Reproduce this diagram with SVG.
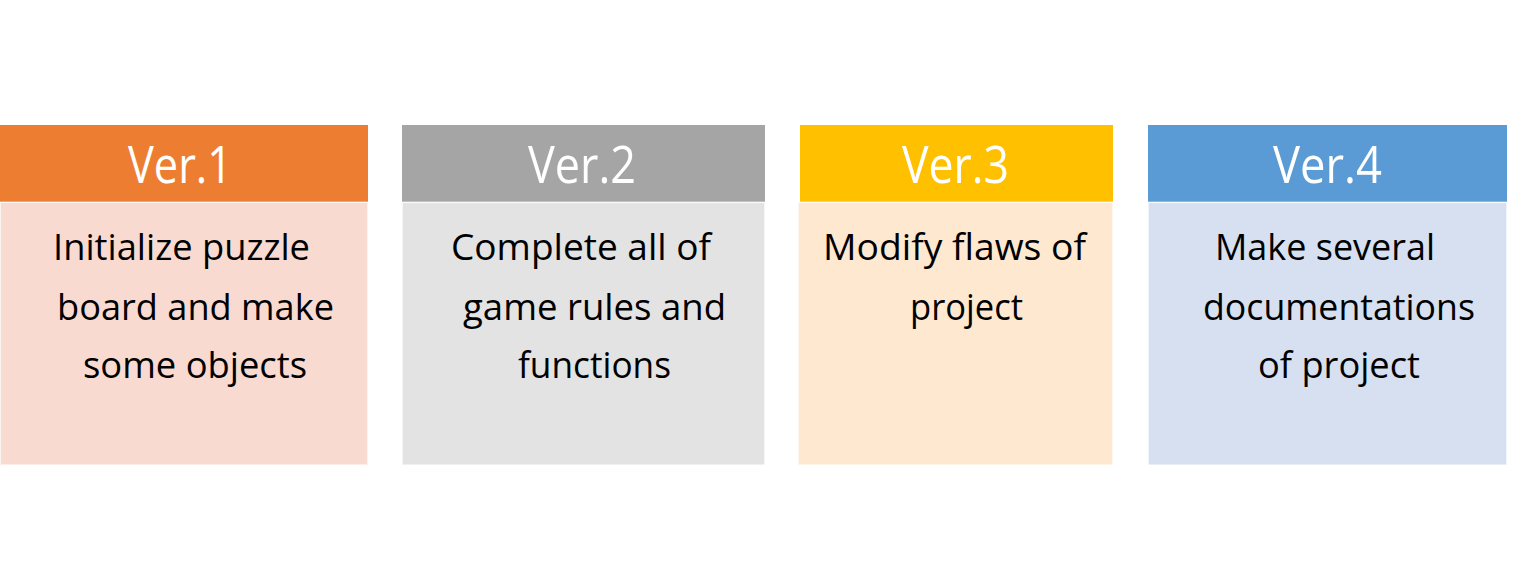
<svg xmlns="http://www.w3.org/2000/svg" width="1522" height="582" viewBox="0 0 1522 582">
<style>
.hd{font-family:"Open Sans","Noto Sans","Liberation Sans",sans-serif;font-size:52px;fill:#FFFFFF}
.bd{font-family:"Open Sans","Noto Sans","Liberation Sans",sans-serif;font-size:36px;fill:#000000}
.body{stroke:#FFFFFF;stroke-opacity:0.35;stroke-width:1}
</style>
<rect x="0" y="0" width="1522" height="582" fill="#FFFFFF"/>
<g id="ver1">
<rect x="0" y="125" width="368" height="76.7" fill="#ED7D31"/>
<rect class="body" x="0.5" y="202.7" width="367" height="262" fill="#F8DAD0"/>
<text class="hd" x="128" y="183" textLength="104" lengthAdjust="spacingAndGlyphs">Ver.1</text>
<text class="bd" x="53" y="260" textLength="257" lengthAdjust="spacingAndGlyphs">Initialize puzzle</text>
<text class="bd" x="57" y="320" textLength="277" lengthAdjust="spacingAndGlyphs">board and make</text>
<text class="bd" x="83" y="378" textLength="224" lengthAdjust="spacingAndGlyphs">some objects</text>
</g>
<g id="ver2">
<rect x="402" y="125" width="363" height="76.7" fill="#A5A5A5"/>
<rect class="body" x="402.5" y="202.7" width="362" height="262" fill="#E3E3E3"/>
<text class="hd" x="528" y="183" textLength="108" lengthAdjust="spacingAndGlyphs">Ver.2</text>
<text class="bd" x="451" y="260" textLength="260" lengthAdjust="spacingAndGlyphs">Complete all of</text>
<text class="bd" x="463" y="320" textLength="263" lengthAdjust="spacingAndGlyphs">game rules and</text>
<text class="bd" x="518" y="378" textLength="153" lengthAdjust="spacingAndGlyphs">functions</text>
</g>
<g id="ver3">
<rect x="800" y="125" width="313" height="76.7" fill="#FFC000"/>
<rect class="body" x="798.5" y="202.7" width="314" height="262" fill="#FEE8D0"/>
<text class="hd" x="902" y="183" textLength="107" lengthAdjust="spacingAndGlyphs">Ver.3</text>
<text class="bd" x="823" y="260" textLength="263" lengthAdjust="spacingAndGlyphs">Modify flaws of</text>
<text class="bd" x="910" y="320" textLength="113" lengthAdjust="spacingAndGlyphs">project</text>
</g>
<g id="ver4">
<rect x="1148" y="125" width="359" height="76.7" fill="#5B9BD5"/>
<rect class="body" x="1148.5" y="202.7" width="358" height="262" fill="#D6E0F0"/>
<text class="hd" x="1273" y="183" textLength="109" lengthAdjust="spacingAndGlyphs">Ver.4</text>
<text class="bd" x="1215" y="260" textLength="220" lengthAdjust="spacingAndGlyphs">Make several</text>
<text class="bd" x="1203" y="320" textLength="272" lengthAdjust="spacingAndGlyphs">documentations</text>
<text class="bd" x="1258" y="378" textLength="162" lengthAdjust="spacingAndGlyphs">of project</text>
</g>
<g id="connectors"></g>
</svg>
